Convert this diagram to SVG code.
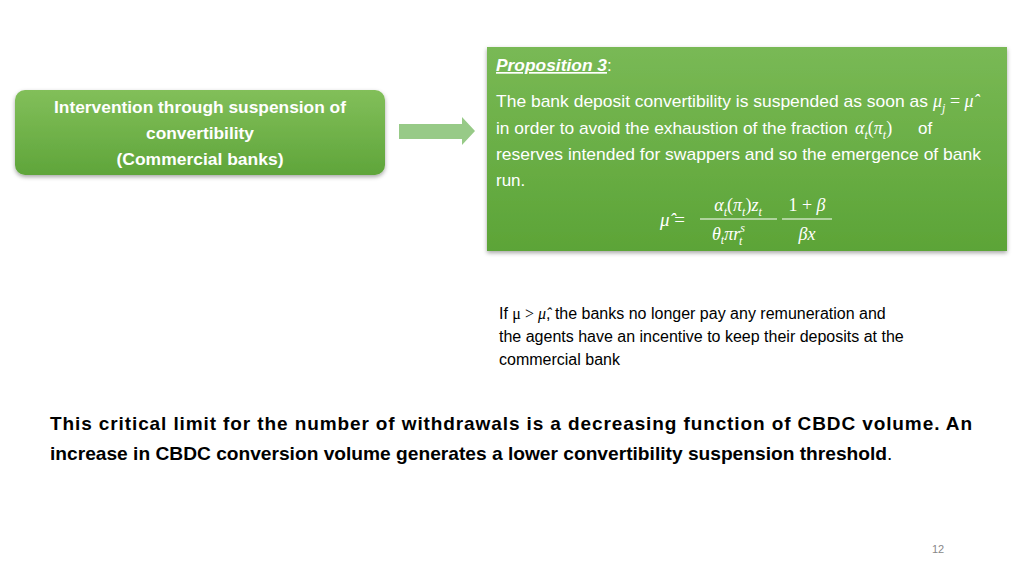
<svg xmlns="http://www.w3.org/2000/svg" width="1024" height="576" viewBox="0 0 1024 576">
<style>
.w{fill:#fff;font-family:"Liberation Sans",Arial,sans-serif}
.m{fill:#fff;font-family:"Liberation Serif","DejaVu Serif",serif;font-style:italic}
.b{fill:#000;font-family:"Liberation Sans",Arial,sans-serif}
</style>
<defs>
<linearGradient id="g1" x1="0" y1="0" x2="0" y2="1"><stop offset="0" stop-color="#82bf5a"/><stop offset="1" stop-color="#5fa53a"/></linearGradient>
<linearGradient id="g2" x1="0" y1="0" x2="0" y2="1"><stop offset="0" stop-color="#79b955"/><stop offset="1" stop-color="#5ca437"/></linearGradient>
<filter id="sh" x="-5%" y="-5%" width="110%" height="120%"><feDropShadow dx="0" dy="2" stdDeviation="2" flood-opacity="0.35"/></filter>
</defs>
<rect width="1024" height="576" fill="#fff"/>
<g id="node-left">
<rect x="15" y="90" width="370" height="85" rx="10" fill="url(#g1)" filter="url(#sh)"/>
<text class="w" font-weight="bold" font-size="17" text-anchor="middle"><tspan x="200" y="113" textLength="292" lengthAdjust="spacingAndGlyphs">Intervention through suspension of</tspan><tspan x="200" y="139" textLength="108" lengthAdjust="spacingAndGlyphs">convertibility</tspan><tspan x="200" y="165" textLength="167" lengthAdjust="spacingAndGlyphs">(Commercial banks)</tspan></text>
</g>
<g id="connectors">
<polygon points="399,124 462,124 462,117 475,131 462,145 462,139 399,139" fill="#8cc47a" opacity="0.9"/>
</g>
<g id="node-prop">
<rect x="487" y="47" width="520" height="204" fill="url(#g2)" filter="url(#sh)"/>
<text class="w" x="496" y="71" font-size="17" font-weight="bold" font-style="italic" text-decoration="underline" textLength="111" lengthAdjust="spacingAndGlyphs">Proposition 3</text>
<text class="w" x="607" y="71" font-size="17">:</text>
<text class="w" font-size="17"><tspan x="496" y="107" textLength="432" lengthAdjust="spacingAndGlyphs">The bank deposit convertibility is suspended as soon as</tspan><tspan x="496" y="134" textLength="352" lengthAdjust="spacingAndGlyphs">in order to avoid the exhaustion of the fraction</tspan><tspan x="918" y="134">of</tspan><tspan x="496" y="160" textLength="485" lengthAdjust="spacingAndGlyphs">reserves intended for swappers and so the emergence of bank</tspan><tspan x="496" y="186">run.</tspan></text>
<text class="m" x="933" y="107" font-size="18">μ<tspan font-size="12" dy="5">j</tspan><tspan dy="-5" font-style="normal"> = </tspan>μ̂</text>
<text class="m" x="855" y="134" font-size="18">α<tspan font-size="12" dy="5">t</tspan><tspan dy="-5" font-style="normal">(</tspan>π<tspan font-size="12" dy="5">t</tspan><tspan dy="-5" font-style="normal">)</tspan></text>
<text class="m" x="660" y="226" font-size="19">μ̂<tspan font-style="normal"> =</tspan></text>
<text class="m" x="738" y="211" font-size="18" text-anchor="middle">α<tspan font-size="12" dy="5">t</tspan><tspan dy="-5" font-style="normal">(</tspan>π<tspan font-size="12" dy="5">t</tspan><tspan dy="-5" font-style="normal">)</tspan>z<tspan font-size="12" dy="5">t</tspan></text>
<line x1="700" y1="219" x2="777" y2="219" stroke="#fff" stroke-width="1.2"/>
<text class="m" x="712" y="240" font-size="18">θ<tspan font-size="12" dy="4">t</tspan><tspan dy="-4">πr</tspan><tspan font-size="12" dy="-8">s</tspan><tspan font-size="12" dx="-6" dy="13">t</tspan></text>
<text class="m" x="807" y="211" font-size="18" text-anchor="middle"><tspan font-style="normal">1 + </tspan>β</text>
<line x1="782" y1="219" x2="832" y2="219" stroke="#fff" stroke-width="1.2"/>
<text class="m" x="807" y="240" font-size="18" text-anchor="middle">βx</text>
</g>
<g id="note">
<text class="b" font-size="16"><tspan x="499" y="319">If </tspan><tspan font-family="Liberation Serif,serif">μ &gt; </tspan><tspan font-family="Liberation Serif,serif" font-style="italic">μ̂</tspan><tspan>, the banks no longer pay any remuneration and</tspan><tspan x="499" y="342">the agents have an incentive to keep their deposits at the</tspan><tspan x="499" y="365">commercial bank</tspan></text>
</g>
<g id="conclusion">
<text class="b" font-size="19" font-weight="bold"><tspan x="50" y="430" textLength="922" lengthAdjust="spacing">This critical limit for the number of withdrawals is a decreasing function of CBDC volume. An</tspan></text>
<text class="b" font-size="19" font-weight="bold" x="50" y="460" textLength="837" lengthAdjust="spacingAndGlyphs">increase in CBDC conversion volume generates a lower convertibility suspension threshold</text>
<text class="b" font-size="19" x="887" y="460">.</text>
</g>
<text x="938" y="553" font-size="11" fill="#888" font-family="Liberation Sans,Arial,sans-serif" text-anchor="middle">12</text>
</svg>
